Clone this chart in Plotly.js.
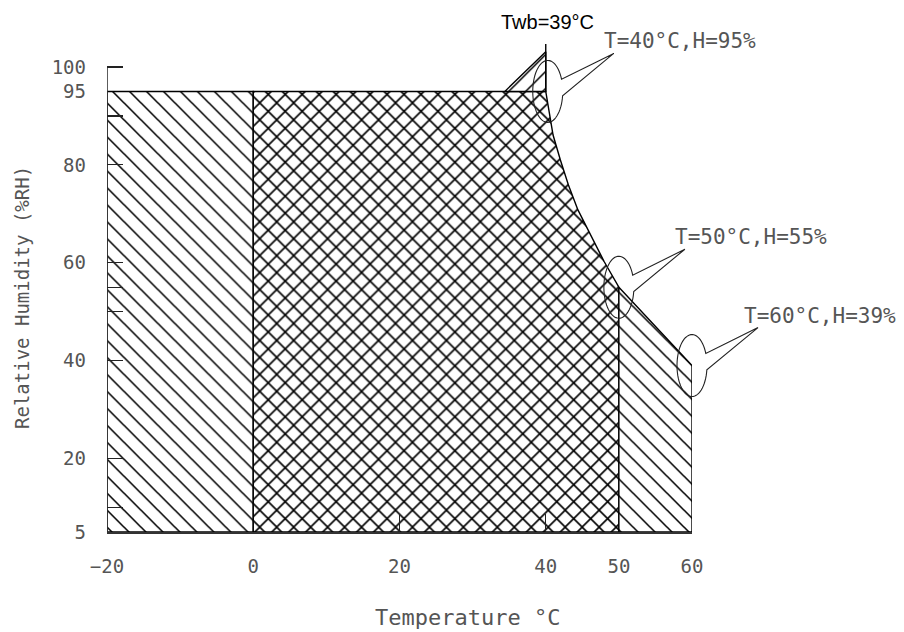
<!DOCTYPE html>
<html>
<head>
<meta charset="utf-8">
<script src="https://cdn.plot.ly/plotly-3.0.1.min.js"></script>
<style>
  html, body { margin: 0; padding: 0; background: #fff; }
  #chart { width: 904px; height: 632px; }
</style>
</head>
<body>
<div id="chart"></div>
<script>
// ---- data ----
const tempBounds = [-20, 0, 50, 60];          // region boundaries (°C)
const humBottom = 5;
const humTop = 95;
const curveT = [40, 40.5, 41.0, 42.0, 43.1, 44.4, 46.1, 48.0, 50, 60];   // Twb = 39°C boundary
const curveH = [95, 90.2, 86.1, 81.0, 75.9, 70.8, 65.7, 60.2, 55, 39];
const pointT = [40, 50, 60];
const pointH = [95, 55, 39];
const pointLabels = ['T=40°C,H=95%', 'T=50°C,H=55%', 'T=60°C,H=39%'];
const twbLabel = 'Twb=39°C';
const twbTop = 104.7;
const hatchT = [34.4, 40, 40];                 // small "/" hatch above 95 %
const hatchH = [95, 103.1, 95];
const xTickVals = [-20, 0, 20, 40, 50, 60];
const xTickText = ['−20', '0', '20', '40', '50', '60'];
const yTickVals = [5, 20, 40, 60, 80, 95, 100];
const yTickText = ['5', '20', '40', '60', '80', '95', '100'];
const xMinorTicks = [20, 40];
const yMinorTicks = [10, 20, 40, 50, 55, 60, 80, 90, 100];
const xTitle = 'Temperature °C';
const yTitle = 'Relative Humidity (%RH)';

// ---- geometry ----
const W = 904, Hh = 632, mL = 107, mR = 212, mT = 18, mB = 100;
const xRange = [-20, 60], yRange = [5, 110];
const pw = W - mL - mR, ph = Hh - mT - mB;
const toPx = t => mL + (t - xRange[0]) / (xRange[1] - xRange[0]) * pw;
const toPy = h => mT + (yRange[1] - h) / (yRange[1] - yRange[0]) * ph;
const paperX = px => (px - mL) / pw;
const paperY = py => (Hh - mB - py) / ph;

const ink = '#000';
const lineW = 1.4;

// regions
const leftX = [tempBounds[0], tempBounds[0], tempBounds[1], tempBounds[1], tempBounds[0]];
const leftY = [humBottom, humTop, humTop, humBottom, humBottom];

const midX = [tempBounds[1], tempBounds[1]];
const midY = [humBottom, humTop];
for (let i = 0; i < curveT.length; i++) {
  if (curveT[i] <= tempBounds[2]) { midX.push(curveT[i]); midY.push(curveH[i]); }
}
midX.push(tempBounds[2], tempBounds[1]);
midY.push(humBottom, humBottom);

const rightX = [tempBounds[2]];
const rightY = [humBottom];
for (let i = 0; i < curveT.length; i++) {
  if (curveT[i] >= tempBounds[2]) { rightX.push(curveT[i]); rightY.push(curveH[i]); }
}
rightX.push(tempBounds[3], tempBounds[2]);
rightY.push(humBottom, humBottom);

const hatchSize = 12;
const singlePat = { shape: '\\', size: hatchSize, solidity: 0.13, fgcolor: ink, bgcolor: 'white' };
const traces = [
  {
    x: leftX, y: leftY, mode: 'lines', fill: 'toself', fillcolor: 'white',
    fillpattern: singlePat, line: { color: ink, width: lineW }, hoverinfo: 'skip'
  },
  {
    x: midX, y: midY, mode: 'lines', fill: 'toself', fillcolor: 'white',
    fillpattern: { shape: 'x', size: hatchSize, solidity: 0.25, fgcolor: ink, bgcolor: 'white' },
    line: { color: ink, width: lineW }, hoverinfo: 'skip'
  },
  {
    x: rightX, y: rightY, mode: 'lines', fill: 'toself', fillcolor: 'white',
    fillpattern: singlePat, line: { color: ink, width: lineW }, hoverinfo: 'skip'
  },
  {
    x: hatchT.concat([hatchT[0]]), y: hatchH.concat([hatchH[0]]), mode: 'lines', fill: 'toself',
    fillcolor: 'white',
    fillpattern: { shape: '/', size: hatchSize, solidity: 0.13, fgcolor: ink, bgcolor: 'white' },
    line: { color: ink, width: lineW }, hoverinfo: 'skip'
  },
  {
    x: [pointT[0], pointT[0]], y: [humTop, twbTop], mode: 'lines',
    line: { color: ink, width: lineW }, cliponaxis: false, hoverinfo: 'skip'
  },
  {
    x: [xRange[0], xRange[0]], y: [humBottom, 100], mode: 'lines',
    line: { color: '#333', width: 1.6 }, cliponaxis: false, hoverinfo: 'skip'
  }
];

// callout bubbles (ellipse + wedge) around the labelled points
const shapes = [];
const annotations = [];
const rx = 15, ry = 31;
const labelOffsetX = [-12, -12, -16];
for (let k = 0; k < pointT.length; k++) {
  const cx = toPx(pointT[k]) + (k === 0 ? 2 : 0), cy = toPy(pointH[k]);
  const tipX = cx + 66, tipY = cy - 38;
  const a0 = 8 * Math.PI / 180, a1 = 337 * Math.PI / 180;
  let d = '';
  const n = 60;
  for (let i = 0; i <= n; i++) {
    const a = a0 + (a1 - a0) * i / n;
    const px = cx + rx * Math.cos(a), py = cy + ry * Math.sin(a);
    d += (i === 0 ? 'M' : 'L') + paperX(px).toFixed(5) + ',' + paperY(py).toFixed(5);
  }
  d += 'L' + paperX(tipX).toFixed(5) + ',' + paperY(tipY).toFixed(5) + 'Z';
  shapes.push({ type: 'path', xref: 'paper', yref: 'paper', path: d,
                line: { color: '#222', width: 1.1 }, fillcolor: 'rgba(0,0,0,0)', layer: 'above' });
  annotations.push({
    text: pointLabels[k], xref: 'paper', yref: 'paper',
    x: paperX(tipX + labelOffsetX[k]), y: paperY(tipY - 12), xanchor: 'left', yanchor: 'middle',
    showarrow: false, font: { family: 'DejaVu Sans Mono, monospace', size: 21, color: '#555' }
  });
}

annotations.push({
  text: twbLabel, xref: 'paper', yref: 'paper',
  x: paperX(toPx(pointT[0]) + 2), y: paperY(toPy(twbTop) - 22), xanchor: 'center', yanchor: 'middle',
  showarrow: false, font: { family: 'Liberation Sans, Arial, sans-serif', size: 20, color: '#000' }
});
annotations.push({
  text: xTitle, xref: 'paper', yref: 'paper',
  x: paperX(467), y: paperY(617), xanchor: 'center', yanchor: 'middle',
  showarrow: false, font: { family: 'DejaVu Sans Mono, monospace', size: 22, color: '#555' }
});
annotations.push({
  text: yTitle, xref: 'paper', yref: 'paper', textangle: -90,
  x: paperX(22), y: paperY(298), xanchor: 'center', yanchor: 'middle',
  showarrow: false, font: { family: 'DejaVu Sans Mono, monospace', size: 19, color: '#555' }
});

const tickFont = { family: 'DejaVu Sans Mono, monospace', size: 19, color: '#555' };
const layout = {
  width: W, height: Hh,
  margin: { l: mL, r: mR, t: mT, b: mB, pad: 0 },
  paper_bgcolor: 'white', plot_bgcolor: 'white',
  showlegend: false,
  xaxis: {
    range: xRange, tickmode: 'array', tickvals: xTickVals, ticktext: xTickText,
    ticks: '', showgrid: false, zeroline: false,
    showline: true, linecolor: '#333', linewidth: 1.6,
    tickfont: tickFont, ticklabelstandoff: 17,
    minor: { tickmode: 'array', tickvals: xMinorTicks, ticks: 'inside', ticklen: 18,
             tickcolor: '#222', tickwidth: 1.2, showgrid: false },
    fixedrange: true
  },
  yaxis: {
    range: yRange, tickmode: 'array', tickvals: yTickVals, ticktext: yTickText,
    ticks: '', showgrid: false, zeroline: false, showline: false,
    tickfont: tickFont, ticklabelstandoff: 20,
    minor: { tickmode: 'array', tickvals: yMinorTicks, ticks: 'inside', ticklen: 16,
             tickcolor: '#222', tickwidth: 1.2, showgrid: false },
    fixedrange: true
  },
  shapes: shapes,
  annotations: annotations
};

Plotly.newPlot('chart', traces, layout, { staticPlot: true, displayModeBar: false });
</script>
</body>
</html>
